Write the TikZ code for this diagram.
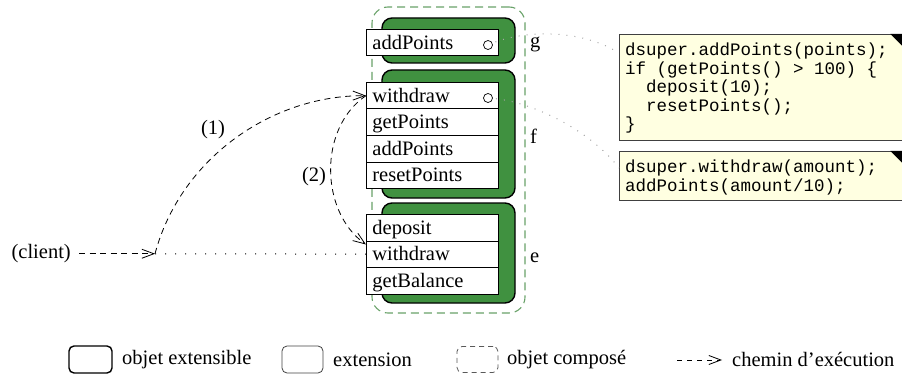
\documentclass[tikz,border=0pt]{standalone}
\usepackage{fontspec}
\setmainfont{Liberation Serif}
\newfontfamily\codefont{Liberation Mono}
\usetikzlibrary{arrows.meta,calc}
\definecolor{objgreen}{RGB}{64,145,64}
\definecolor{compgreen}{RGB}{105,162,105}
\definecolor{notefill}{RGB}{255,255,225}
\definecolor{dotgray}{RGB}{165,165,165}
\begin{document}
\begin{tikzpicture}[x=1pt,y=-1pt,font=\fontsize{20.5}{24}\selectfont,
  composite/.style={draw=compgreen,dash pattern=on 8pt off 5pt,line width=1.1pt,rounded corners=16pt,minimum width=153pt,minimum height=306pt,inner sep=0pt},
  greenblock/.style={draw=black,fill=objgreen,line width=1.4pt,rounded corners=10pt,minimum width=133pt,inner sep=0pt},
  row/.style={draw=black,fill=white,line width=0.8pt,anchor=north west,minimum width=132pt,minimum height=26.5pt,text width=120pt,align=left,inner xsep=6pt,inner ysep=0pt,text height=16pt,text depth=3pt},
  circ/.style={circle,draw=black,fill=white,line width=0.7pt,minimum size=9pt,inner sep=0pt},
  objlabel/.style={anchor=base west,inner sep=3pt},
  codebox/.style={draw=black!75,fill=notefill,line width=0.8pt,anchor=north west,minimum width=282.5pt,inner sep=0pt},
  codetext/.style={font=\codefont\fontsize{17.5}{18.5}\selectfont,align=left,anchor=north west,inner sep=0pt},
  flow/.style={dash pattern=on 6pt off 4.5pt,line width=0.8pt,-{Straight Barb[length=12pt,width=9pt,line width=0.8pt]}},
  calldot/.style={dash pattern=on 1pt off 9pt,line width=1pt},
  notelink/.style={draw=dotgray,dash pattern=on 1pt off 7pt,line width=1pt},
  legtext/.style={anchor=west,inner sep=5pt}]
\useasboundingbox (0,0) rectangle (902,377);

% composite object
\node[composite] (comp) at (448.5,160) {};

% extensible objects and extensions
\node[greenblock,minimum height=45pt] (gobj) at (448.5,40.5) {};
\node[greenblock,minimum height=128pt] (fobj) at (448.5,134) {};
\node[greenblock,minimum height=100pt] (eobj) at (448.5,253) {};

\node[row] (gadd) at (366,29) {addPoints};

\node[row] (fw) at (366,82) {withdraw};
\node[row] (fget) at (366,108.5) {getPoints};
\node[row] (fadd) at (366,135) {addPoints};
\node[row] (freset) at (366,161.5) {resetPoints};

\node[row] (ed) at (366,214) {deposit};
\node[row] (ew) at (366,240.5) {withdraw};
\node[row] (eb) at (366,267) {getBalance};

% code notes
\node[codebox,minimum height=106pt] (c1) at (619,34) {};
\node[codebox,minimum height=49pt] (c2) at (619,151) {};
\fill ($(c1.north east)+(-12,0)$) -- (c1.north east) -- ($(c1.north east)+(0,12)$) -- cycle;
\fill ($(c2.north east)+(-12,0)$) -- (c2.north east) -- ($(c2.north east)+(0,12)$) -- cycle;
\node[codetext] (t1) at (625,43) {dsuper.addPoints(points);\\if (getPoints() > 100) \{\\\phantom{xx}deposit(10);\\\phantom{xx}resetPoints();\\\}};
\node[codetext] (t2) at (625,160) {dsuper.withdraw(amount);\\addPoints(amount/10);};

% links from methods to code
\coordinate (gcp) at (488,45);
\coordinate (fcp) at (488,98);
\draw[notelink] (gcp) .. controls (520,30) and (580,28) .. ($(c1.north west)+(0,19)$);
\draw[notelink] (fcp) .. controls (530,100) and (590,130) .. ($(c2.north west)+(0,17)$);
\node[circ] (gc) at (gcp) {};
\node[circ] (fc) at (fcp) {};

% object labels
\node[objlabel] (lg) at (527,48) {g};
\node[objlabel] (lf) at (527,143) {f};
\node[objlabel] (le) at (527,262) {e};

% client and execution paths
\node[anchor=east,inner sep=3pt] (client) at (74,253.75) {(client)};
\coordinate (split) at (155,253.75);
\draw[flow] ($(client.east)+(5,0)$) -- (split);
\draw[calldot] (split) -- (ew.west);
\draw[flow] (split) .. controls (180,160) and (270,95.25) .. (fw.west);
\draw[flow] (fw.west) .. controls (318,128) and (320,212) .. ($(ew.north west)+(0,4)$);
\node (n1) at (213,130) {(1)};
\node (n2) at (314,177) {(2)};

% legend
\node[draw=black,line width=1.4pt,rounded corners=5pt,minimum width=43pt,minimum height=27pt,inner sep=0pt] (lgext) at (90.5,359.5) {};
\node[legtext] (lgextt) at (117,359.5) {objet extensible};
\node[draw=black!75,line width=0.8pt,rounded corners=5pt,minimum width=41pt,minimum height=27pt,inner sep=0pt] (lgxt) at (302.5,359.5) {};
\node[legtext] (lgxtt) at (328,359.5) {extension};
\node[draw=black!65,dash pattern=on 5pt off 4pt,line width=0.8pt,rounded corners=5pt,minimum width=41pt,minimum height=26pt,inner sep=0pt] (lgcomp) at (477.5,359.5) {};
\node[legtext] (lgcompt) at (502,359.5) {objet composé};
\coordinate (la1) at (677,360);
\coordinate (la2) at (722,360);
\draw[flow,dash pattern=on 5pt off 5pt] (la1) -- (la2);
\node[legtext] (lgflowt) at (727,359.5) {chemin d’exécution};
\end{tikzpicture}
\end{document}
